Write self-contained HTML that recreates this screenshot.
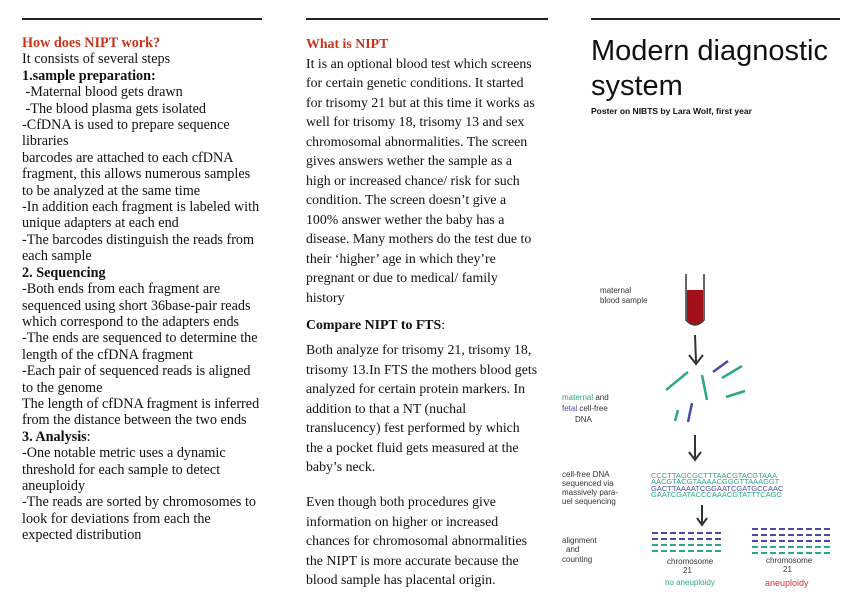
<!DOCTYPE html>
<html><head><meta charset="utf-8"><style>
body{margin:0;width:863px;height:610px;background:#fff;position:relative;overflow:hidden;font-family:"Liberation Serif",serif;color:#111}
.r{position:absolute;height:2px;background:#222}
.l{position:absolute;left:22px;top:35px;font-size:14.2px;line-height:16.4px;white-space:nowrap}
.m{position:absolute;left:306px;font-size:13.85px;line-height:19.5px;white-space:nowrap}
.red{color:#c8341c;font-weight:bold}
.h{position:absolute;font-family:"Liberation Sans",sans-serif}
</style></head><body>
<div class="r" style="left:22px;top:18px;width:240px"></div>
<div class="r" style="left:306px;top:18px;width:242px"></div>
<div class="r" style="left:591px;top:18px;width:249px"></div>
<div class="l"><span class="red">How does NIPT work?</span><br>It consists of several steps<br><b>1.sample preparation:</b><br>&nbsp;-Maternal blood gets drawn<br>&nbsp;-The blood plasma gets isolated<br>-CfDNA is used to prepare sequence<br>libraries<br>barcodes are attached to each cfDNA<br>fragment, this allows numerous samples<br>to be analyzed at the same time<br>-In addition each fragment is labeled with<br>unique adapters at each end<br>-The barcodes distinguish the reads from<br>each sample<br><b>2. Sequencing</b><br>-Both ends from each fragment are<br>sequenced using short 36base-pair reads<br>which correspond to the adapters ends<br>-The ends are sequenced to determine the<br>length of the cfDNA fragment<br>-Each pair of sequenced reads is aligned<br>to the genome<br>The length of cfDNA fragment is inferred<br>from the distance between the two ends<br><b>3. Analysis</b>:<br>-One notable metric uses a dynamic<br>threshold for each sample to detect<br>aneuploidy<br>-The reads are sorted by chromosomes to<br>look for deviations from each the<br>expected distribution</div>
<div class="m" style="top:34px"><span class="red">What is NIPT</span><br>It is an optional blood test which screens<br>for certain genetic conditions. It started<br>for trisomy 21 but at this time it works as<br>well for trisomy 18, trisomy 13 and sex<br>chromosomal abnormalities. The screen<br>gives answers wether the sample as a<br>high or increased chance/ risk for such<br>condition. The screen doesn’t give a<br>100% answer wether the baby has a<br>disease. Many mothers do the test due to<br>their ‘higher’ age in which they’re<br>pregnant or due to medical/ family<br>history</div>
<div class="m" style="top:315px"><b>Compare NIPT to FTS</b>:</div>
<div class="m" style="top:340px">Both analyze for trisomy 21, trisomy 18,<br>trisomy 13.In FTS the mothers blood gets<br>analyzed for certain protein markers. In<br>addition to that a NT (nuchal<br>translucency) fest performed by which<br>the a pocket fluid gets measured at the<br>baby’s neck.</div>
<div class="m" style="top:492px">Even though both procedures give<br>information on higher or increased<br>chances for chromosomal abnormalities<br>the NIPT is more accurate because the<br>blood sample has placental origin.</div>
<div class="h" style="left:591px;top:34px;font-size:29px;line-height:35px;color:#111">Modern diagnostic<br>system</div>
<div class="h" style="left:591px;top:106px;font-size:8.5px;font-weight:bold">Poster on NIBTS by Lara Wolf, first year</div>
<svg style="position:absolute;left:0;top:0" width="863" height="610">
<path d="M686 274 L686 320 Q695 330 704 320 L704 274" fill="#fff" stroke="#333" stroke-width="1.5"/>
<path d="M687 290 L687 320 Q695 329 703 320 L703 290 Z" fill="#a3101a"/>
<g stroke="#333" stroke-width="2" fill="none">
<path d="M695 335 L696 362 M689 355 L696 364 L703 355"/>
<path d="M695 435 L695 458 M689 452 L695 460 L701 452"/>
<path d="M702 505 L702 523 M697 518 L702 525 L707 518"/>
</g>
<g stroke="#2aa887" stroke-width="2.5">
<path d="M666 390 L688 372"/><path d="M702 375 L707 400"/><path d="M722 378 L742 366"/><path d="M726 397 L745 391"/><path d="M678 410 L675 421"/>
</g>
<g stroke="#4a4aa6" stroke-width="2.5"><path d="M713 372 L728 361"/><path d="M692 403 L688 422"/></g>
<g font-family="Liberation Sans,sans-serif" font-size="7.5">
<text x="651" y="478" fill="#2aa887">CCCTTAGCGCTTTAACGTACGTAAA</text>
<text x="651" y="484" fill="#2aa887">AACGTACGTAAAACGGGTTAAAGGT</text>
<text x="651" y="491" fill="#4a4aa6">GACTTAAAATCGGAATCGATGCCAAC</text>
<text x="651" y="497" fill="#2aa887">GAATCGATACCCAAACGTATTTCAGC</text>
</g>
<g stroke-width="2" stroke-dasharray="6 3">
<path d="M652 533 H722 M652 539 H722" stroke="#4a4aa6"/><path d="M652 545 H722 M652 551 H722" stroke="#2aa887"/>
<path d="M752 529 H830 M752 535 H830 M752 541 H830" stroke="#4a4aa6"/><path d="M752 547 H830 M752 553 H830" stroke="#2aa887"/>
</g>
<g font-family="Liberation Sans,sans-serif" font-size="8" fill="#333">
<text x="600" y="293">maternal</text><text x="600" y="303">blood sample</text>
<text x="562" y="400" fill="#2aa887">maternal <tspan fill="#333">and</tspan></text>
<text x="562" y="411"><tspan fill="#4a4aa6">fetal</tspan> cell-free</text><text x="575" y="422">DNA</text>
<text x="562" y="477">cell-free DNA</text><text x="562" y="486">sequenced via</text><text x="562" y="495">massively para-</text><text x="562" y="504">uel sequencing</text>
<text x="562" y="543">alignment</text><text x="566" y="552">and</text><text x="562" y="562">counting</text>
<text x="667" y="564">chromosome</text><text x="683" y="573">21</text><text x="665" y="585" fill="#2aa887">no aneuploidy</text>
<text x="766" y="563">chromosome</text><text x="783" y="572">21</text><text x="765" y="586" fill="#d9302a" font-size="9">aneuploidy</text>
</g>
</svg>
</body></html>
